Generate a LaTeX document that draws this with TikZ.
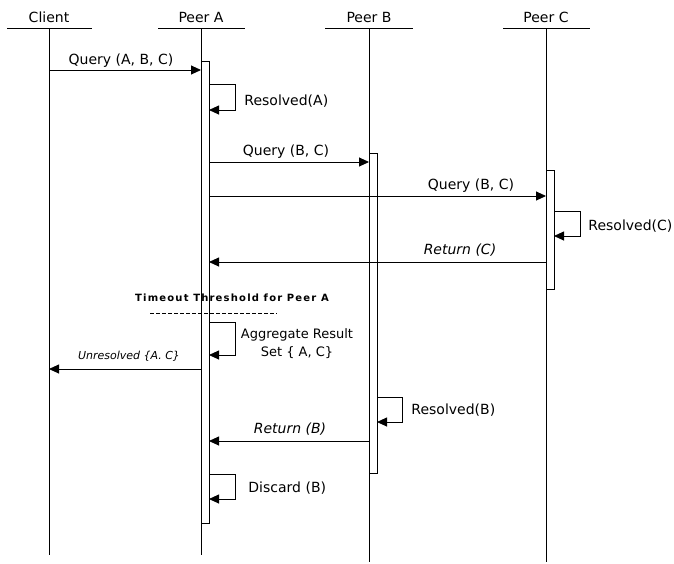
\documentclass[tikz,border=0pt]{standalone}
\usepackage{fontspec}
\setmainfont{DejaVu Sans}
\newfontfamily\widebold[LetterSpace=12]{DejaVu Sans Bold}
\usetikzlibrary{arrows.meta}
\begin{document}
\begin{tikzpicture}[x=1pt,y=-1pt,line width=0.9pt,
  msg/.style={-{Triangle[length=10pt,width=9pt]}},
  lbl/.style={font=\fontsize{14}{16}\selectfont,inner sep=0pt,anchor=base},
  llbl/.style={lbl,anchor=base west},
  ilbl/.style={lbl,font=\fontsize{14}{16}\selectfont\itshape},
  act/.style={draw,fill=white,minimum width=8pt,inner sep=0pt}]
\useasboundingbox (0,0) rectangle (674,563);
% heads
\node[lbl] (hC) at (49,22) {Client};
\node[lbl] (hA) at (201,22) {Peer A};
\node[lbl] (hB) at (369,22) {Peer B};
\node[lbl] (hP) at (546,22) {Peer C};
\coordinate (tC) at (49,28); \coordinate (bC) at (49,555);
\coordinate (tA) at (201,28); \coordinate (bA) at (201,555);
\coordinate (tB) at (369,28); \coordinate (bB) at (369,562);
\coordinate (tP) at (546,28); \coordinate (bP) at (546,562);
\draw (7,28) -- (92,28);
\draw (158,28) -- (245,28);
\draw (325,28) -- (413,28);
\draw (503,28) -- (590,28);
\draw (tC) -- (bC);
\draw (tA) -- (bA);
\draw (tB) -- (bB);
\draw (tP) -- (bP);
% activations
\node[act,minimum height=462pt] (aA) at (205,292) {};
\node[act,minimum height=320pt] (aB) at (373,313) {};
\node[act,minimum height=119pt] (aP) at (550,229.5) {};
% Query (A,B,C)
\coordinate (m1s) at (49,70); \coordinate (m1e) at (201,70);
\draw[msg] (m1s) -- (m1e);
\node[lbl] (l1) at (121,64) {Query (A, B, C)};
% Resolved(A)
\coordinate (s1a) at (209,84); \coordinate (s1b) at (235,84);
\coordinate (s1c) at (235,110); \coordinate (s1d) at (209,110);
\draw[msg] (s1a) -- (s1b) -- (s1c) -- (s1d);
\node[llbl] (l2) at (244,105) {Resolved(A)};
% Query (B,C) to B
\coordinate (m2s) at (209,162); \coordinate (m2e) at (369,162);
\draw[msg] (m2s) -- (m2e);
\node[lbl] (l3) at (286,155) {Query (B, C)};
% Query (B,C) to C
\coordinate (m3s) at (209,196); \coordinate (m3e) at (546,196);
\draw[msg] (m3s) -- (m3e);
\node[lbl] (l4) at (471,189) {Query (B, C)};
% Resolved(C)
\coordinate (s2a) at (554,211); \coordinate (s2b) at (580,211);
\coordinate (s2c) at (580,236); \coordinate (s2d) at (554,236);
\draw[msg] (s2a) -- (s2b) -- (s2c) -- (s2d);
\node[llbl] (l5) at (588,230) {Resolved(C)};
% Return (C)
\coordinate (m4s) at (546,262); \coordinate (m4e) at (209,262);
\draw[msg] (m4s) -- (m4e);
\node[ilbl] (l6) at (460,254) {Return (C)};
% Timeout
\node[lbl,font=\fontsize{10}{12}\widebold] (to) at (232,301) {Timeout Threshold for Peer A};
\coordinate (d1) at (150,313); \coordinate (d2) at (277,313);
\draw[line width=0.7pt,dash pattern=on 4pt off 2pt] (d1) -- (d2);
% Aggregate
\coordinate (s3a) at (209,322); \coordinate (s3b) at (235,322);
\coordinate (s3c) at (235,355); \coordinate (s3d) at (209,355);
\draw[msg] (s3a) -- (s3b) -- (s3c) -- (s3d);
\node[lbl,font=\fontsize{13}{15}\selectfont] (l7) at (297,338) {Aggregate Result};
\node[lbl,font=\fontsize{13}{15}\selectfont] (l8) at (297,356) {Set \{ A, C\}};
% Unresolved
\coordinate (m5s) at (201,369); \coordinate (m5e) at (49,369);
\draw[msg] (m5s) -- (m5e);
\node[ilbl,font=\fontsize{11}{13}\selectfont\itshape] (l9) at (129,359) {Unresolved \{A. C\}};
% Resolved(B)
\coordinate (s4a) at (377,397); \coordinate (s4b) at (402,397);
\coordinate (s4c) at (402,422); \coordinate (s4d) at (377,422);
\draw[msg] (s4a) -- (s4b) -- (s4c) -- (s4d);
\node[llbl] (l10) at (411,414) {Resolved(B)};
% Return (B)
\coordinate (m6s) at (369,441); \coordinate (m6e) at (209,441);
\draw[msg] (m6s) -- (m6e);
\node[ilbl] (l11) at (290,433) {Return (B)};
% Discard
\coordinate (s5a) at (209,474); \coordinate (s5b) at (235,474);
\coordinate (s5c) at (235,499); \coordinate (s5d) at (209,499);
\draw[msg] (s5a) -- (s5b) -- (s5c) -- (s5d);
\node[llbl] (l12) at (248,492) {Discard (B)};
\end{tikzpicture}
\end{document}
